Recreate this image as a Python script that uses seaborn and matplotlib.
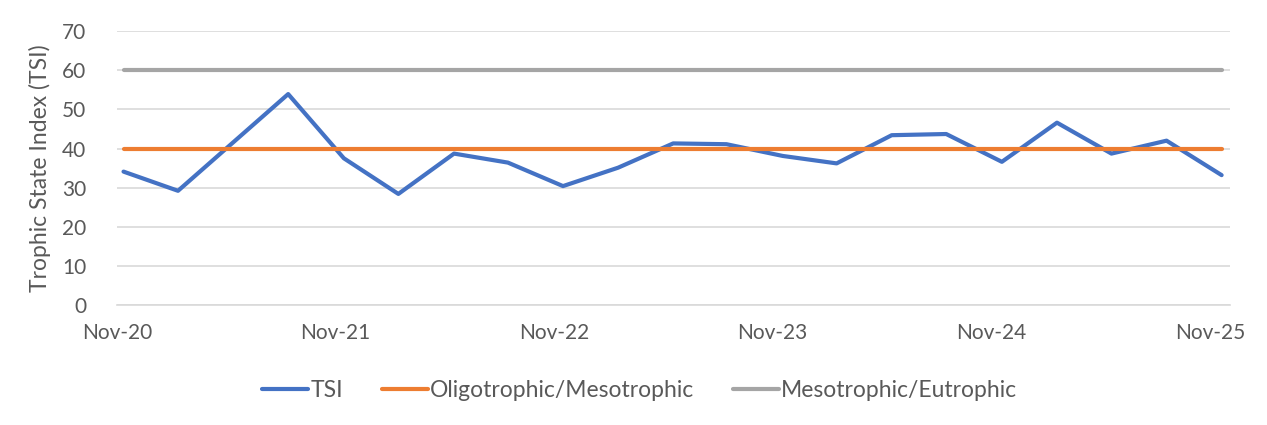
import pandas as pd
import seaborn as sns
import matplotlib.pyplot as plt

# sample dates (quarterly, one gap in May-21)
dates = ["2020-11-12", "2021-02-11", "2021-08-14", "2021-11-15", "2022-02-14",
         "2022-05-18", "2022-08-16", "2022-11-16", "2023-02-16", "2023-05-19",
         "2023-08-16", "2023-11-18", "2024-02-16", "2024-05-18", "2024-08-17",
         "2024-11-18", "2025-02-18", "2025-05-20", "2025-08-20", "2025-11-20"]
tsi = [34.1, 29.2, 53.9, 37.5, 28.4, 38.7, 36.4, 30.4, 35.1, 41.3,
       41.1, 38.1, 36.2, 43.4, 43.7, 36.6, 46.6, 38.7, 42.0, 33.2]
oligo_meso = [40] * len(dates)
meso_eu = [60] * len(dates)

series_names = ["TSI", "Oligotrophic/Mesotrophic", "Mesotrophic/Eutrophic"]
colors = ["#4472C4", "#ED7D31", "#A5A5A5"]
tick_dates = ["2020-11-01", "2021-11-01", "2022-11-01", "2023-11-01", "2024-11-01", "2025-11-01"]
tick_labels = ["Nov-20", "Nov-21", "Nov-22", "Nov-23", "Nov-24", "Nov-25"]

df = pd.DataFrame({
    "Date": pd.to_datetime(dates * 3),
    "Value": tsi + oligo_meso + meso_eu,
    "Series": [series_names[0]] * len(dates) + [series_names[1]] * len(dates) + [series_names[2]] * len(dates),
})

sns.set_theme(style="white")
plt.rcParams["font.family"] = ["Lato", "DejaVu Sans"]
text_col = "#595959"

fig = plt.figure(figsize=(12.67, 4.25), dpi=100)
ax = fig.add_axes([0.0923, 0.282, 0.8785, 0.645])

sns.lineplot(data=df, x="Date", y="Value", hue="Series", hue_order=series_names,
             palette=colors, linewidth=3, ax=ax, legend=True)

ax.set_ylim(0, 70)
ax.set_yticks(range(0, 71, 10))
ax.set_xlim(pd.Timestamp("2020-11-01"), pd.Timestamp("2025-12-04"))
ax.set_xticks(pd.to_datetime(tick_dates))
ax.set_xticklabels(tick_labels)
ax.yaxis.grid(True, color="#d9d9d9", linewidth=1.2)
ax.set_axisbelow(True)
for s in ["left", "right", "top"]:
    ax.spines[s].set_visible(False)
ax.spines["bottom"].set_color("#d9d9d9")
ax.spines["bottom"].set_linewidth(1.2)
ax.tick_params(axis="x", direction="inout", length=10, width=1.2, color="#d9d9d9",
               labelsize=15, labelcolor=text_col, pad=8)
ax.tick_params(axis="y", length=0, labelsize=15, labelcolor=text_col, pad=22)
ax.set_xlabel("")
ax.set_ylabel("Trophic State Index (TSI)", fontsize=16.5, color=text_col, labelpad=8)

handles, labels = ax.get_legend_handles_labels()
ax.legend_.remove()
fig.legend(handles, labels, loc="center", bbox_to_anchor=(0.505, 0.082), ncol=3,
           frameon=False, fontsize=16.5, labelcolor=text_col, handlelength=2.0,
           handletextpad=0.1, columnspacing=1.7)

fig.savefig("out.png", dpi=100)
